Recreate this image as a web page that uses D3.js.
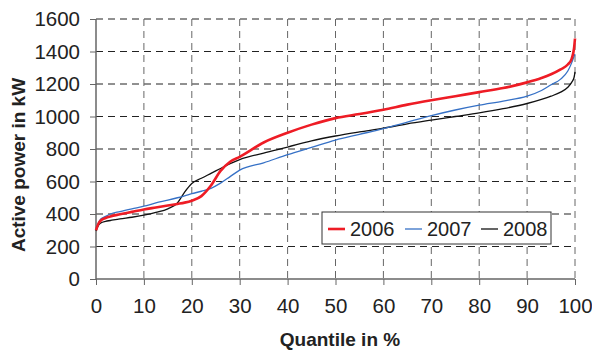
<!DOCTYPE html>
<html lang="en">
<head>
    <meta charset="UTF-8">
    <title>Active power quantiles</title>
    <script src="https://d3js.org/d3.v7.min.js"></script>
    <style>
        body { margin: 0; padding: 0; background: #fff; font-family: "Liberation Sans", Arial, sans-serif; }
        .grid-h line { stroke: #222; stroke-dasharray: 7,5; }
        .grid-v line { stroke: #666; stroke-dasharray: 7,5; }
        .line { fill: none; }
    </style>
</head>
<body>
    <div id="chart"></div>
    <script>
        // quantile positions (%) and readings (kW) per year
        const quantiles = [0, 0.5, 1, 2, 3, 5, 7.5, 10, 12.5, 15, 17, 18.5, 20, 22, 24, 26, 28, 30, 35, 40, 45, 50, 55, 60, 65, 70, 75, 80, 85, 90, 93, 95, 97, 98.5, 99.3, 99.8, 100];
        const power2006 = [300, 340, 360, 375, 385, 398, 413, 428, 440, 452, 462, 470, 482, 510, 575, 665, 722, 752, 840, 900, 950, 990, 1015, 1042, 1073, 1100, 1125, 1150, 1175, 1210, 1237, 1260, 1290, 1320, 1355, 1420, 1480];
        const power2007 = [310, 345, 370, 385, 400, 415, 432, 448, 468, 485, 500, 512, 525, 540, 558, 590, 630, 670, 715, 765, 810, 855, 890, 925, 965, 1005, 1040, 1070, 1095, 1125, 1160, 1195, 1230, 1280, 1330, 1370, 1385];
        const power2008 = [295, 330, 345, 355, 360, 370, 380, 393, 410, 432, 468, 535, 588, 620, 650, 680, 710, 735, 775, 812, 850, 880, 905, 928, 955, 978, 1000, 1022, 1048, 1080, 1105, 1125, 1150, 1180, 1210, 1240, 1275];
        const years = ["2006", "2007", "2008"];
        const xTicks = [0, 10, 20, 30, 40, 50, 60, 70, 80, 90, 100];
        const yTicks = [0, 200, 400, 600, 800, 1000, 1200, 1400, 1600];

        const W = 592, H = 352;
        const margin = {top: 19, right: 17, bottom: 73, left: 96};
        const width = W - margin.left - margin.right;
        const height = H - margin.top - margin.bottom;

        const svg = d3.select("#chart").append("svg")
            .attr("width", W)
            .attr("height", H);

        const g = svg.append("g")
            .attr("transform", `translate(${margin.left},${margin.top})`);

        const x = d3.scaleLinear().domain([0, 100]).range([0, width]);
        const y = d3.scaleLinear().domain([0, 1600]).range([height, 0]);

        // gridlines
        g.append("g").attr("class", "grid-h")
            .selectAll("line").data(yTicks.filter(d => d > 0)).join("line")
            .attr("x1", 0).attr("x2", width)
            .attr("y1", d => y(d)).attr("y2", d => y(d));

        g.append("g").attr("class", "grid-v")
            .selectAll("line").data(xTicks.filter(d => d > 0)).join("line")
            .attr("x1", d => x(d)).attr("x2", d => x(d))
            .attr("y1", 0).attr("y2", height);

        // axes
        const gx = g.append("g")
            .attr("transform", `translate(0,${height})`)
            .call(d3.axisBottom(x).tickValues(xTicks).tickFormat(d3.format("d")).tickSize(6).tickPadding(13));
        const gy = g.append("g")
            .call(d3.axisLeft(y).tickValues(yTicks).tickFormat(d3.format("d")).tickSize(6).tickPadding(10));

        [gx, gy].forEach(a => {
            a.select(".domain").attr("stroke", "#666").attr("stroke-width", 1.5);
            a.selectAll(".tick line").attr("stroke", "#666");
            a.selectAll(".tick text")
                .attr("fill", "#222")
                .style("font-family", "'Liberation Sans', Arial, sans-serif")
                .style("font-size", "20.5px");
        });
        gx.select(".domain").attr("d", `M0,0H${width}`);
        gy.select(".domain").attr("d", `M0,${height}V0`);

        // lines
        const series = [
            {name: years[0], values: power2006, color: "#ee1c25", w: 2.6},
            {name: years[1], values: power2007, color: "#3671c6", w: 1.3},
            {name: years[2], values: power2008, color: "#111", w: 1.3}
        ];

        const line = d3.line()
            .x((d, i) => x(quantiles[i]))
            .y(d => y(d))
            .curve(d3.curveMonotoneX);

        [series[2], series[1], series[0]].forEach(s => {
            g.append("path")
                .datum(s.values)
                .attr("class", "line")
                .attr("stroke", s.color)
                .attr("stroke-width", s.w)
                .attr("d", line);
        });

        // legend
        const leg = svg.append("g").attr("transform", "translate(322,212)");
        leg.append("rect")
            .attr("width", 229).attr("height", 32)
            .attr("fill", "#fff").attr("stroke", "#333").attr("stroke-width", 1);
        const entryX = [6, 83, 159];
        series.forEach((s, i) => {
            leg.append("line")
                .attr("x1", entryX[i]).attr("x2", entryX[i] + 17)
                .attr("y1", 17).attr("y2", 17)
                .attr("stroke", s.color).attr("stroke-width", s.w);
            leg.append("text")
                .attr("x", entryX[i] + 22).attr("y", 17)
                .attr("dy", "0.35em")
                .attr("fill", "#222")
                .style("font-size", "20px")
                .text(s.name);
        });

        // axis titles
        svg.append("text")
            .attr("x", 340).attr("y", 346)
            .attr("text-anchor", "middle")
            .attr("fill", "#222")
            .style("font-size", "19px").style("font-weight", "bold")
            .text("Quantile in %");

        svg.append("text")
            .attr("transform", "translate(25,165) rotate(-90)")
            .attr("text-anchor", "middle")
            .attr("fill", "#222")
            .style("font-size", "19px").style("font-weight", "bold")
            .text("Active power in kW");
    </script>
</body>
</html>
